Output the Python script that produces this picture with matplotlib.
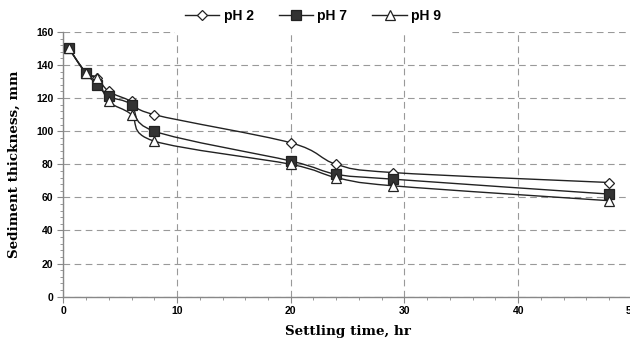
import numpy as np
import matplotlib.pyplot as plt
from matplotlib.path import Path
from matplotlib.patches import PathPatch
from matplotlib.lines import Line2D
from matplotlib.ticker import MultipleLocator

# settling data
time_hr = [0.5, 2, 3, 4, 6, 8, 20, 24, 29, 48]
ph2 = [150, 135, 132, 124, 118, 110, 93, 80, 75, 69]
ph7 = [150, 135, 128, 121, 116, 100, 82, 74, 71, 62]
ph9 = [150, 135, 132, 118, 110, 94, 80, 72, 67, 58]

x_ticks = [0, 10, 20, 30, 40, 50]
y_ticks = [0, 20, 40, 60, 80, 100, 120, 140, 160]


def smooth_path(x, y):
    # Excel style smoothed line: catmull-rom turned into bezier segments
    pts = np.column_stack([x, y]).astype(float)
    verts = [pts[0]]
    codes = [Path.MOVETO]
    n = len(pts)
    for i in range(n - 1):
        p0 = pts[max(i - 1, 0)]
        p1 = pts[i]
        p2 = pts[i + 1]
        p3 = pts[min(i + 2, n - 1)]
        verts += [p1 + (p2 - p0) / 6, p2 - (p3 - p1) / 6, p2]
        codes += [Path.CURVE4] * 3
    return Path(verts, codes)


fig = plt.figure(figsize=(6.3, 3.43), dpi=100)
ax = fig.add_axes([0.1005, 0.135, 0.9025, 0.772])

series = [
    ('pH 2', ph2, dict(marker='D', markersize=5, markerfacecolor='white',
                       markeredgecolor='#222222', markeredgewidth=0.9)),
    ('pH 7', ph7, dict(marker='s', markersize=7.5, markerfacecolor='#333333',
                       markeredgecolor='#222222', markeredgewidth=0.9)),
    ('pH 9', ph9, dict(marker='^', markersize=7, markerfacecolor='white',
                       markeredgecolor='#222222', markeredgewidth=0.9)),
]

handles = []
for name, vals, mk in series:
    ax.add_patch(PathPatch(smooth_path(time_hr, vals), facecolor='none',
                           edgecolor='#222222', lw=1.0, zorder=3))
    ax.plot(time_hr, vals, linestyle='none', zorder=4, **mk)
    handles.append(Line2D([], [], color='#222222', lw=1.0, label=name, **mk))

ax.set_xlim(0, 50)
ax.set_ylim(0, 160)
ax.set_xticks(x_ticks)
ax.set_yticks(y_ticks)
ax.xaxis.set_minor_locator(MultipleLocator(2))
ax.yaxis.set_minor_locator(MultipleLocator(4))

ax.grid(True, which='major', color='#999999', ls=(0, (6, 4)), lw=0.8)
for s in ['top', 'right']:
    ax.spines[s].set_visible(False)
for s in ['left', 'bottom']:
    ax.spines[s].set_color('#888888')
    ax.spines[s].set_linewidth(1.0)

ax.tick_params(which='both', colors='#888888', labelcolor='black')
ax.tick_params(which='major', length=4, labelsize=7.5, pad=3)
ax.tick_params(which='minor', length=2.5)
for lab in ax.get_xticklabels() + ax.get_yticklabels():
    lab.set_fontfamily('Liberation Sans')
    lab.set_fontweight('bold')

ax.set_xlabel('Settling time, hr', fontfamily='DejaVu Serif', fontweight='bold',
              fontsize=9.7, labelpad=6)
ax.set_ylabel('Sediment thickness, mm', fontfamily='DejaVu Serif', fontweight='bold',
              fontsize=9.7, labelpad=11)

# white legend box hides part of the top gridline, as in the original
fig.legend(handles=handles, loc='lower center', bbox_to_anchor=(0.497, 1 - 34 / 343),
           ncol=3, frameon=True, facecolor='white', edgecolor='none', framealpha=1,
           prop={'family': 'Liberation Sans', 'weight': 'bold', 'size': 10},
           handlelength=2.45, columnspacing=1.8, handletextpad=0.35,
           borderpad=0.8, borderaxespad=0)

fig.savefig('out.png', dpi=100)
